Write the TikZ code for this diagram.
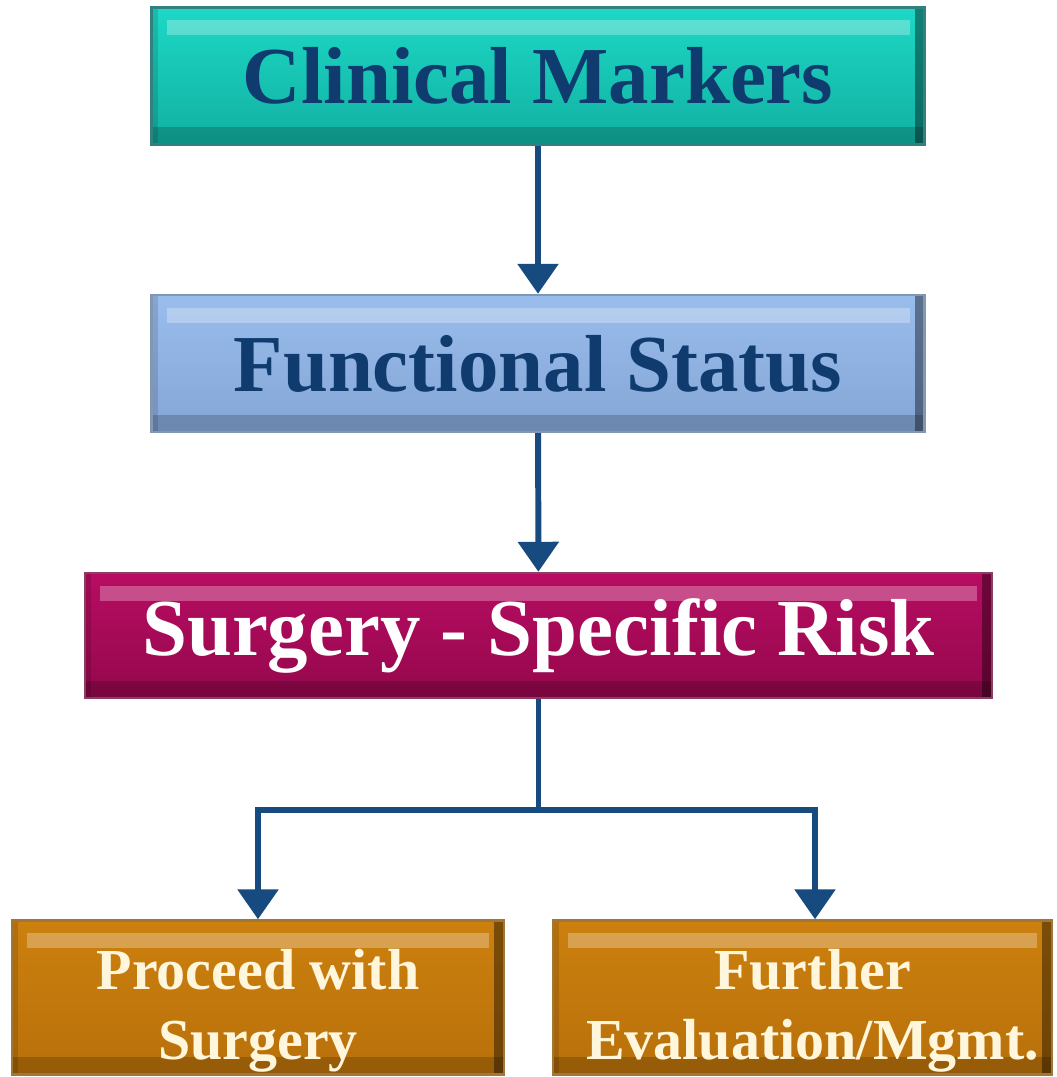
\documentclass[tikz,border=0pt]{standalone}
\usepackage{fontspec}
\setmainfont{Liberation Serif}
\usetikzlibrary{arrows.meta,positioning,calc}
\definecolor{navy}{HTML}{0F3B6E}
\definecolor{linkblue}{HTML}{174A7E}
\definecolor{cream}{HTML}{FFF6DC}
\definecolor{tealfill}{HTML}{1DD8C5}
\definecolor{tealdark}{HTML}{12B0A2}
\definecolor{bluefill}{HTML}{99BDEC}
\definecolor{bluedark}{HTML}{84A6D6}
\definecolor{riskfill}{HTML}{B80C62}
\definecolor{riskdark}{HTML}{94084C}
\definecolor{ochrefill}{HTML}{CC800E}
\definecolor{ochredark}{HTML}{B8700A}
\newcommand{\twolines}[2]{\raisebox{-0.48cm}[0pt][0pt]{\begin{tabular}{@{}c@{}}#1\\#2\end{tabular}}}
\tikzset{
	panel/.style={rectangle, inner sep=0pt, line width=1.4pt, align=center, font=\bfseries,
		path picture={
			\fill[white,opacity=.28] ($(path picture bounding box.north west)+(0.3,-0.25)$) rectangle ($(path picture bounding box.north east)+(-0.3,-0.55)$);
			\fill[black,opacity=.18] ($(path picture bounding box.south west)+(0,0.35)$) rectangle (path picture bounding box.south east);
			\fill[black,opacity=.12] (path picture bounding box.north west) rectangle ($(path picture bounding box.south west)+(0.12,0)$);
			\fill[black,opacity=.40] ($(path picture bounding box.north east)+(-0.2,0)$) rectangle (path picture bounding box.south east);
		}},
	markers/.style={panel, draw=teal!60!gray, top color=tealfill, bottom color=tealdark, text=navy,
		minimum width=15.46cm, minimum height=2.74cm, font=\bfseries\fontsize{46}{50}\selectfont},
	status/.style={panel, draw=bluedark!60!gray, top color=bluefill, bottom color=bluedark, text=navy,
		minimum width=15.46cm, minimum height=2.74cm, font=\bfseries\fontsize{46}{50}\selectfont},
	risk/.style={panel, draw=riskdark!55!gray, top color=riskfill, bottom color=riskdark, text=white,
		minimum width=18.14cm, minimum height=2.5cm, font=\bfseries\fontsize{46}{50}\selectfont},
	outcome/.style={panel, draw=ochredark!60!gray, top color=ochrefill, bottom color=ochredark, text=cream,
		minimum width=9.9cm, minimum height=3.08cm, font=\bfseries\fontsize{33}{40}\selectfont},
	link/.style={draw=linkblue, line width=3.4pt},
	tolink/.style={link, -{Triangle[width=0.8cm,length=0.6cm]}}
}
\begin{document}
\begin{tikzpicture}
	\useasboundingbox (0,0) rectangle (21.12,-21.54);
	\node[markers] (markers) at (10.76,-1.52) {Clinical Markers};
	\node[status] (status) at (10.76,-7.27) {Functional Status};
	\node[risk] (risk) at (10.77,-12.71) {Surgery - Specific Risk};
	\node[outcome, minimum width=9.84cm] (proceed) at (5.16,-19.95) {\twolines{Proceed with}{Surgery}};
	\node[outcome, minimum width=9.98cm] (further) at (16.05,-19.95) {\hspace*{0.4cm}\twolines{Further}{Evaluation/Mgmt.}};
	\coordinate (split) at (10.77,-16.2);
	\coordinate (furtherin) at ($(further.north)+(0.25,0)$);

	\draw[tolink] (markers) -- (status);
	\draw[tolink] (status) -- (risk);
	\draw[link] (risk) -- (split);
	\draw[tolink] (split) -| (proceed.north);
	\draw[tolink] (split) -| (furtherin);
\end{tikzpicture}
\end{document}
